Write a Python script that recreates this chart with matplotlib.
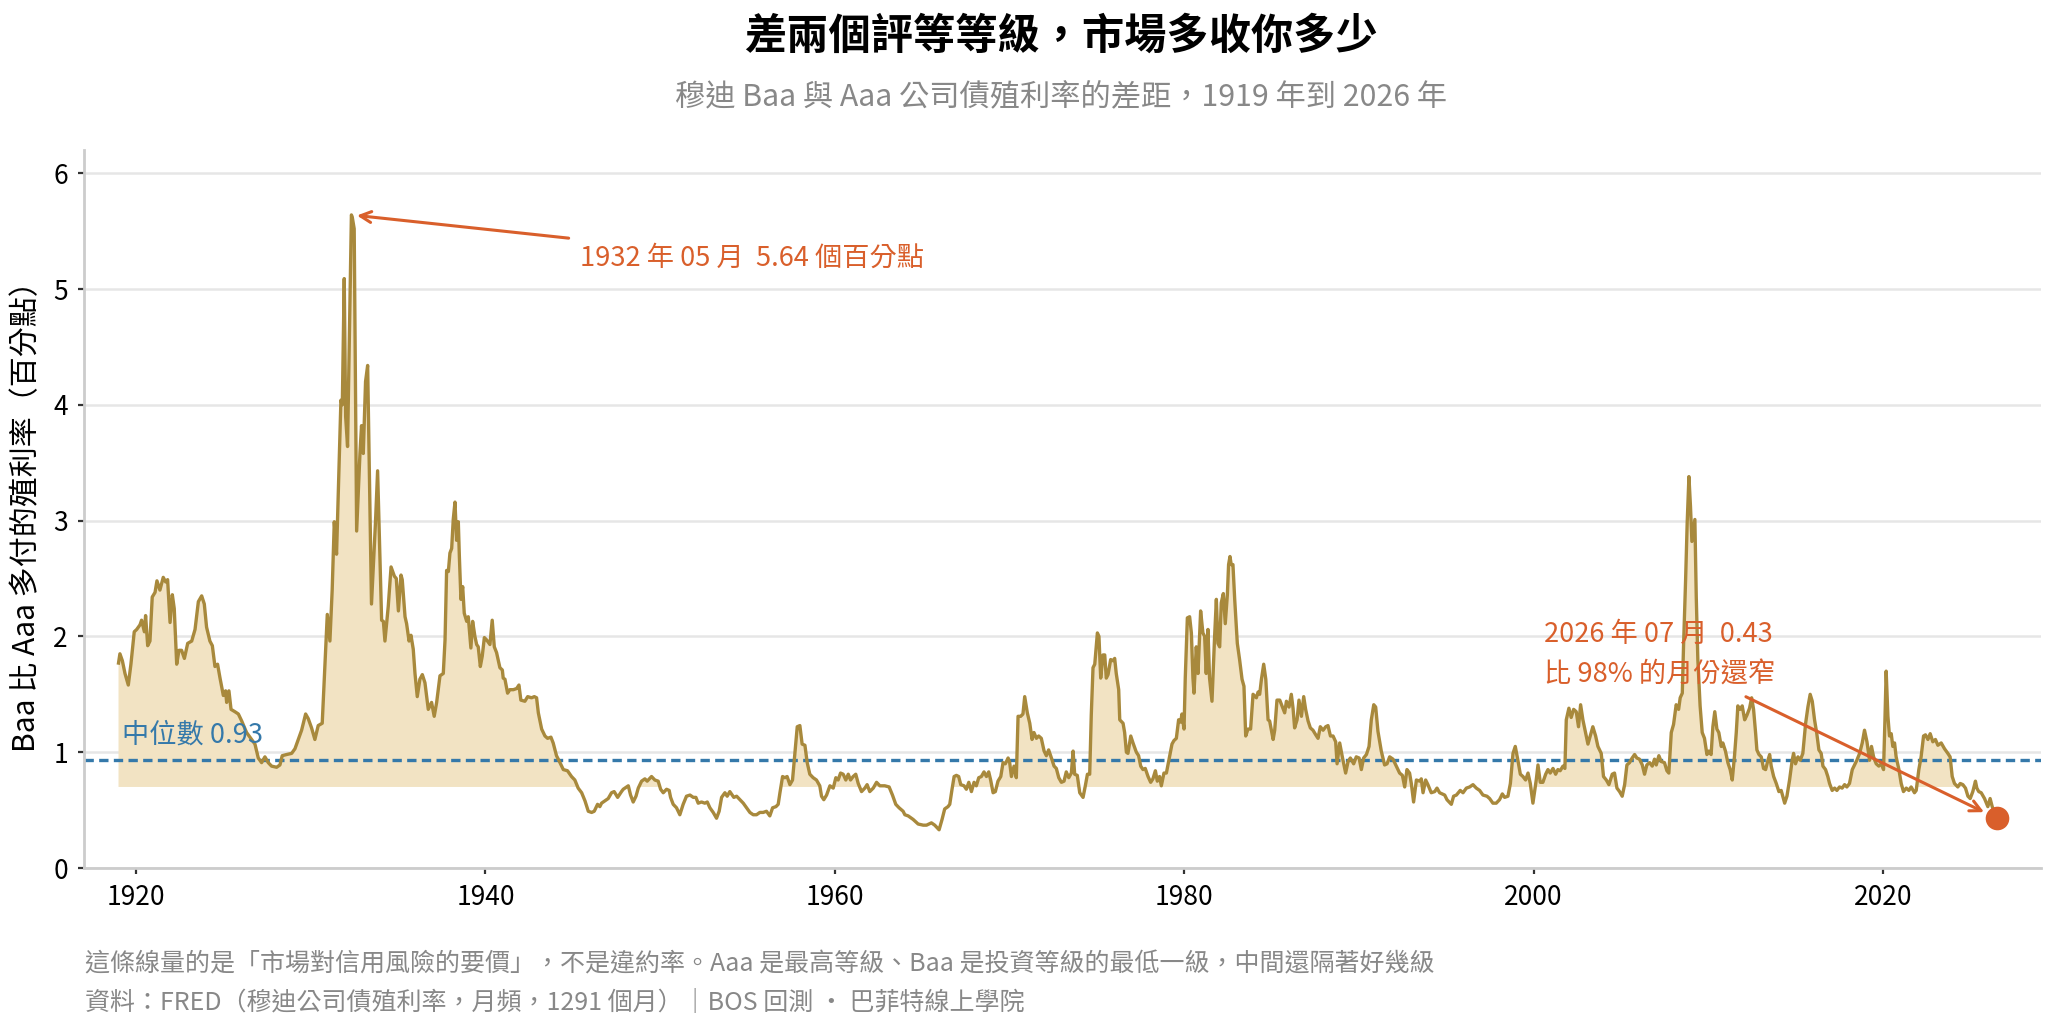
import numpy as np
import matplotlib
matplotlib.use("Agg")
import matplotlib.pyplot as plt

plt.rcParams['font.family'] = ['Noto Sans CJK TC', 'DejaVu Sans']

# Moody's Baa - Aaa spread (percentage points)
# (decimal year, spread)
spread_1919_1933 = [
    (1919.00, 1.77), (1919.08, 1.85), (1919.22, 1.79), (1919.37, 1.68), (1919.56, 1.58),
    (1919.71, 1.76), (1919.90, 2.04), (1920.04, 2.06), (1920.23, 2.10), (1920.32, 2.14),
    (1920.48, 2.04), (1920.55, 2.18), (1920.67, 1.92), (1920.80, 1.96), (1920.93, 2.34),
    (1921.09, 2.38), (1921.20, 2.48), (1921.37, 2.40), (1921.56, 2.51), (1921.70, 2.47),
    (1921.81, 2.49), (1921.95, 2.12), (1922.08, 2.36), (1922.19, 2.24), (1922.33, 1.76),
    (1922.46, 1.88), (1922.61, 1.88), (1922.77, 1.81), (1922.96, 1.94), (1923.19, 1.96),
    (1923.38, 2.06), (1923.57, 2.30), (1923.76, 2.35), (1923.91, 2.28), (1924.04, 2.08),
    (1924.23, 1.96), (1924.37, 1.92), (1924.52, 1.74), (1924.67, 1.76), (1924.81, 1.64),
    (1925.00, 1.49), (1925.13, 1.53), (1925.19, 1.43), (1925.32, 1.53), (1925.44, 1.37),
    (1925.66, 1.35), (1925.86, 1.33), (1926.05, 1.27), (1926.33, 1.17), (1926.62, 1.11),
    (1926.81, 1.07), (1927.00, 0.95), (1927.19, 0.91), (1927.38, 0.96), (1927.57, 0.91),
    (1927.76, 0.88), (1928.05, 0.87), (1928.24, 0.89), (1928.37, 0.97), (1928.62, 0.98),
    (1928.91, 0.99), (1929.10, 1.03), (1929.29, 1.11), (1929.48, 1.19), (1929.71, 1.33),
    (1929.86, 1.29), (1930.05, 1.21), (1930.24, 1.11), (1930.43, 1.23), (1930.66, 1.25),
    (1930.95, 2.19), (1931.10, 1.96), (1931.23, 2.40), (1931.35, 2.99), (1931.48, 2.71),
    (1931.73, 4.04), (1931.81, 4.00), (1931.92, 5.09), (1932.00, 3.90), (1932.11, 3.64),
    (1932.33, 5.64), (1932.38, 5.62), (1932.49, 5.52), (1932.63, 2.91), (1932.82, 3.58),
    (1932.91, 3.82), (1933.01, 3.58), (1933.14, 4.20), (1933.26, 4.34), (1933.48, 2.28),
    (1933.71, 2.99), (1933.83, 3.43),
]

spread_1934_1947 = [
    (1934.06, 2.14), (1934.16, 2.13), (1934.25, 1.96), (1934.44, 2.26), (1934.60, 2.60),
    (1934.79, 2.52), (1934.90, 2.50), (1935.02, 2.22), (1935.17, 2.53), (1935.24, 2.49),
    (1935.40, 2.17), (1935.49, 2.11), (1935.63, 1.96), (1935.74, 2.01), (1935.87, 1.89),
    (1935.97, 1.68), (1936.10, 1.48), (1936.25, 1.63), (1936.39, 1.67), (1936.54, 1.60),
    (1936.73, 1.37), (1936.92, 1.43), (1937.07, 1.31), (1937.21, 1.43), (1937.40, 1.66),
    (1937.59, 1.68), (1937.69, 1.97), (1937.78, 2.57), (1937.88, 2.56), (1937.97, 2.72),
    (1938.07, 2.76), (1938.16, 3.01), (1938.26, 3.16), (1938.35, 2.83), (1938.45, 2.99),
    (1938.51, 2.69), (1938.60, 2.32), (1938.70, 2.43), (1938.79, 2.20), (1938.93, 2.13),
    (1939.02, 2.17), (1939.17, 1.90), (1939.27, 2.13), (1939.40, 2.00), (1939.50, 1.93),
    (1939.59, 1.91), (1939.71, 1.74), (1939.82, 1.83), (1939.94, 1.99), (1940.07, 1.97),
    (1940.26, 1.93), (1940.39, 2.14), (1940.51, 1.91), (1940.64, 1.86), (1940.83, 1.73),
    (1940.97, 1.71), (1941.02, 1.64), (1941.12, 1.63), (1941.27, 1.51), (1941.40, 1.54),
    (1941.60, 1.54), (1941.79, 1.55), (1941.92, 1.58), (1942.03, 1.45), (1942.26, 1.44),
    (1942.42, 1.48), (1942.64, 1.47), (1942.80, 1.48), (1942.93, 1.47), (1943.03, 1.34),
    (1943.22, 1.20), (1943.41, 1.14), (1943.56, 1.12), (1943.75, 1.13), (1943.88, 1.08),
    (1944.07, 0.97), (1944.27, 0.91), (1944.46, 0.85), (1944.70, 0.84), (1944.93, 0.79),
    (1945.12, 0.76), (1945.31, 0.69), (1945.51, 0.65), (1945.70, 0.58), (1945.89, 0.49),
    (1946.08, 0.48), (1946.23, 0.49), (1946.42, 0.55), (1946.55, 0.53), (1946.65, 0.56),
    (1946.84, 0.58), (1947.03, 0.60), (1947.22, 0.65), (1947.37, 0.66), (1947.57, 0.61),
    (1947.79, 0.66),
]

spread_1948_1966 = [
    (1947.89, 0.68), (1948.18, 0.71), (1948.31, 0.63), (1948.46, 0.57), (1948.62, 0.62),
    (1948.75, 0.69), (1948.94, 0.75), (1949.13, 0.77), (1949.26, 0.75), (1949.51, 0.79),
    (1949.70, 0.76), (1949.89, 0.75), (1950.03, 0.68), (1950.18, 0.65), (1950.37, 0.68),
    (1950.52, 0.67), (1950.60, 0.61), (1950.75, 0.55), (1950.94, 0.52), (1951.13, 0.46),
    (1951.32, 0.55), (1951.51, 0.62), (1951.71, 0.63), (1951.90, 0.61), (1952.05, 0.61),
    (1952.18, 0.56), (1952.37, 0.57), (1952.56, 0.56), (1952.70, 0.57), (1952.85, 0.52),
    (1953.04, 0.48), (1953.23, 0.43), (1953.38, 0.49), (1953.52, 0.61), (1953.71, 0.65),
    (1953.84, 0.62), (1953.99, 0.66), (1954.22, 0.61), (1954.38, 0.62), (1954.57, 0.59),
    (1954.76, 0.56), (1954.95, 0.52), (1955.14, 0.48), (1955.33, 0.46), (1955.52, 0.46),
    (1955.71, 0.48), (1955.90, 0.48), (1956.09, 0.49), (1956.28, 0.45), (1956.44, 0.52),
    (1956.63, 0.53), (1956.76, 0.55), (1956.86, 0.65), (1957.01, 0.79), (1957.14, 0.78),
    (1957.27, 0.79), (1957.43, 0.72), (1957.58, 0.76), (1957.71, 0.98), (1957.85, 1.22),
    (1958.00, 1.23), (1958.13, 1.07), (1958.29, 1.06), (1958.42, 0.91), (1958.57, 0.81),
    (1958.76, 0.78), (1958.95, 0.76), (1959.14, 0.71), (1959.24, 0.62), (1959.37, 0.59),
    (1959.53, 0.63), (1959.72, 0.71), (1959.91, 0.69), (1960.06, 0.78), (1960.19, 0.76),
    (1960.33, 0.82), (1960.48, 0.81), (1960.63, 0.76), (1960.77, 0.81), (1960.90, 0.76),
    (1961.05, 0.79), (1961.20, 0.81), (1961.34, 0.73), (1961.53, 0.66), (1961.72, 0.69),
    (1961.85, 0.72), (1962.00, 0.66), (1962.20, 0.69), (1962.39, 0.74), (1962.58, 0.71),
    (1962.86, 0.71), (1963.11, 0.70), (1963.30, 0.63), (1963.49, 0.55), (1963.68, 0.52),
    (1963.91, 0.49), (1964.01, 0.46), (1964.20, 0.45), (1964.48, 0.42), (1964.77, 0.38),
    (1965.06, 0.37), (1965.25, 0.37), (1965.53, 0.39), (1965.72, 0.37), (1965.97, 0.33),
]

spread_1966_1983 = [
    (1966.14, 0.42), (1966.29, 0.51), (1966.48, 0.53), (1966.58, 0.55), (1966.71, 0.68),
    (1966.83, 0.79), (1966.96, 0.80), (1967.09, 0.79), (1967.21, 0.72), (1967.40, 0.71),
    (1967.53, 0.68), (1967.67, 0.74), (1967.82, 0.66), (1967.97, 0.74), (1968.10, 0.71),
    (1968.24, 0.78), (1968.39, 0.79), (1968.54, 0.83), (1968.68, 0.79), (1968.81, 0.83),
    (1968.92, 0.76), (1969.06, 0.65), (1969.19, 0.66), (1969.34, 0.75), (1969.50, 0.79),
    (1969.63, 0.91), (1969.76, 0.90), (1969.92, 0.95), (1970.01, 0.91), (1970.11, 0.79),
    (1970.26, 0.88), (1970.39, 0.78), (1970.49, 1.31), (1970.64, 1.31), (1970.77, 1.33),
    (1970.87, 1.48), (1971.02, 1.34), (1971.16, 1.25), (1971.29, 1.11), (1971.40, 1.17),
    (1971.54, 1.12), (1971.67, 1.14), (1971.82, 1.12), (1971.98, 1.01), (1972.11, 0.97),
    (1972.24, 1.02), (1972.40, 0.95), (1972.55, 0.88), (1972.68, 0.86), (1972.82, 0.78),
    (1972.97, 0.74), (1973.12, 0.75), (1973.25, 0.83), (1973.39, 0.78), (1973.54, 0.82),
    (1973.64, 1.01), (1973.73, 0.81), (1973.88, 0.80), (1974.02, 0.65), (1974.21, 0.61),
    (1974.34, 0.71), (1974.46, 0.81), (1974.59, 0.81), (1974.68, 1.32), (1974.78, 1.73),
    (1974.88, 1.76), (1975.03, 2.03), (1975.12, 2.00), (1975.22, 1.64), (1975.35, 1.84),
    (1975.45, 1.84), (1975.54, 1.64), (1975.64, 1.67), (1975.79, 1.80), (1975.92, 1.79),
    (1976.02, 1.81), (1976.11, 1.68), (1976.25, 1.54), (1976.31, 1.28), (1976.50, 1.25),
    (1976.59, 1.17), (1976.69, 1.00), (1976.78, 0.99), (1976.94, 1.14), (1977.07, 1.08),
    (1977.26, 1.00), (1977.39, 0.97), (1977.51, 0.88), (1977.64, 0.85), (1977.77, 0.86),
    (1977.93, 0.79), (1978.08, 0.74), (1978.21, 0.77), (1978.35, 0.84), (1978.46, 0.75),
    (1978.59, 0.79), (1978.69, 0.71), (1978.84, 0.82), (1978.98, 0.82), (1979.17, 0.97),
    (1979.30, 1.07), (1979.41, 1.10), (1979.55, 1.12), (1979.68, 1.28), (1979.80, 1.26),
    (1979.87, 1.33), (1979.99, 1.20), (1980.06, 1.64), (1980.18, 2.16), (1980.31, 2.17),
    (1980.41, 2.03), (1980.50, 1.64), (1980.56, 1.51), (1980.69, 1.91), (1980.79, 1.68),
    (1980.94, 2.22), (1981.07, 2.03), (1981.17, 2.00), (1981.26, 1.68), (1981.36, 2.06),
    (1981.45, 1.64), (1981.59, 1.44), (1981.74, 2.00), (1981.84, 2.32), (1981.93, 1.94),
    (1982.03, 1.91), (1982.12, 2.29), (1982.24, 2.37), (1982.35, 2.11), (1982.47, 2.36),
    (1982.54, 2.62), (1982.62, 2.69), (1982.69, 2.62), (1982.79, 2.62), (1982.89, 2.32),
    (1983.04, 1.94), (1983.17, 1.80), (1983.31, 1.63), (1983.42, 1.57), (1983.52, 1.14),
    (1983.65, 1.20), (1983.80, 1.20), (1983.94, 1.50),
]

spread_1984_1999 = [
    (1984.13, 1.47), (1984.23, 1.52), (1984.32, 1.50), (1984.42, 1.63), (1984.55, 1.76),
    (1984.67, 1.63), (1984.80, 1.28), (1984.89, 1.27), (1984.99, 1.19), (1985.09, 1.11),
    (1985.18, 1.19), (1985.31, 1.45), (1985.47, 1.45), (1985.62, 1.39), (1985.75, 1.34),
    (1985.85, 1.44), (1986.00, 1.39), (1986.13, 1.50), (1986.23, 1.38), (1986.32, 1.21),
    (1986.46, 1.28), (1986.57, 1.45), (1986.71, 1.31), (1986.84, 1.48), (1986.95, 1.37),
    (1987.09, 1.27), (1987.22, 1.21), (1987.37, 1.19), (1987.53, 1.15), (1987.66, 1.12),
    (1987.79, 1.22), (1987.95, 1.19), (1988.10, 1.22), (1988.23, 1.23), (1988.37, 1.14),
    (1988.52, 1.14), (1988.67, 1.09), (1988.75, 0.90), (1988.90, 1.08), (1989.05, 0.96),
    (1989.24, 0.82), (1989.38, 0.92), (1989.51, 0.95), (1989.70, 0.90), (1989.85, 0.96),
    (1990.01, 0.95), (1990.14, 0.85), (1990.27, 0.95), (1990.43, 0.98), (1990.58, 1.05),
    (1990.71, 1.28), (1990.85, 1.41), (1990.96, 1.39), (1991.09, 1.18), (1991.28, 1.01),
    (1991.47, 0.89), (1991.61, 0.90), (1991.76, 0.96), (1991.95, 0.94), (1992.14, 0.88),
    (1992.33, 0.82), (1992.49, 0.80), (1992.62, 0.70), (1992.75, 0.85), (1992.90, 0.82),
    (1993.00, 0.73), (1993.13, 0.57), (1993.29, 0.76), (1993.48, 0.75), (1993.57, 0.77),
    (1993.67, 0.65), (1993.82, 0.76), (1993.95, 0.72), (1994.14, 0.65), (1994.34, 0.66),
    (1994.47, 0.69), (1994.62, 0.65), (1994.77, 0.64), (1994.91, 0.63), (1995.04, 0.59),
    (1995.29, 0.55), (1995.42, 0.62), (1995.58, 0.63), (1995.80, 0.67), (1995.96, 0.65),
    (1996.15, 0.69), (1996.34, 0.70), (1996.53, 0.72), (1996.72, 0.69), (1996.91, 0.67),
    (1997.10, 0.63), (1997.33, 0.62), (1997.48, 0.60), (1997.67, 0.56), (1997.86, 0.56),
    (1998.05, 0.59), (1998.21, 0.64), (1998.34, 0.61), (1998.53, 0.62), (1998.67, 0.73),
    (1998.82, 0.99), (1998.95, 1.05), (1999.10, 0.93), (1999.24, 0.81), (1999.39, 0.79),
    (1999.54, 0.76), (1999.68, 0.82), (1999.81, 0.73), (1999.96, 0.56), (2000.15, 0.76),
]

spread_2000_2011 = [
    (2000.25, 0.89), (2000.38, 0.74), (2000.53, 0.74), (2000.69, 0.81), (2000.82, 0.85),
    (2000.95, 0.82), (2001.11, 0.86), (2001.26, 0.81), (2001.39, 0.85), (2001.52, 0.84),
    (2001.68, 0.88), (2001.79, 0.86), (2001.87, 1.28), (2002.02, 1.38), (2002.15, 1.30),
    (2002.29, 1.37), (2002.44, 1.35), (2002.57, 1.22), (2002.69, 1.41), (2002.82, 1.28),
    (2002.97, 1.17), (2003.11, 1.07), (2003.24, 1.14), (2003.39, 1.22), (2003.55, 1.14),
    (2003.68, 1.05), (2003.87, 0.99), (2004.00, 0.79), (2004.16, 0.76), (2004.31, 0.72),
    (2004.50, 0.81), (2004.63, 0.82), (2004.77, 0.69), (2004.92, 0.66), (2005.07, 0.62),
    (2005.21, 0.72), (2005.34, 0.89), (2005.49, 0.91), (2005.64, 0.95), (2005.78, 0.98),
    (2005.91, 0.95), (2006.06, 0.94), (2006.22, 0.89), (2006.35, 0.81), (2006.48, 0.89),
    (2006.64, 0.91), (2006.79, 0.88), (2006.92, 0.94), (2007.02, 0.89), (2007.17, 0.97),
    (2007.30, 0.92), (2007.49, 0.91), (2007.63, 0.84), (2007.74, 0.82), (2007.88, 1.17),
    (2008.01, 1.24), (2008.16, 1.41), (2008.30, 1.37), (2008.39, 1.47), (2008.51, 1.51),
    (2008.58, 1.91), (2008.70, 2.49), (2008.79, 2.98), (2008.89, 3.38), (2008.98, 3.12),
    (2009.06, 2.82), (2009.15, 2.92), (2009.23, 3.01), (2009.31, 2.34), (2009.40, 1.80),
    (2009.53, 1.40), (2009.65, 1.17), (2009.78, 1.12), (2009.92, 0.98), (2010.03, 1.01),
    (2010.16, 0.98), (2010.26, 1.22), (2010.37, 1.35), (2010.49, 1.20), (2010.60, 1.17),
    (2010.74, 1.05), (2010.83, 1.08), (2010.98, 1.01), (2011.12, 0.91), (2011.25, 0.85),
    (2011.37, 0.76), (2011.50, 0.97), (2011.60, 1.17), (2011.69, 1.40), (2011.82, 1.37),
    (2011.94, 1.40),
]

spread_2012_2026 = [
    (2012.08, 1.28), (2012.21, 1.32), (2012.36, 1.38), (2012.48, 1.47), (2012.59, 1.37),
    (2012.71, 1.16), (2012.78, 1.02), (2012.90, 0.98), (2013.03, 0.96), (2013.16, 0.86),
    (2013.28, 0.85), (2013.41, 0.93), (2013.51, 0.98), (2013.60, 0.88), (2013.74, 0.79),
    (2013.89, 0.73), (2014.04, 0.66), (2014.17, 0.67), (2014.37, 0.56), (2014.50, 0.62),
    (2014.65, 0.76), (2014.80, 0.93), (2014.88, 0.99), (2014.99, 0.90), (2015.13, 0.96),
    (2015.26, 0.93), (2015.41, 0.99), (2015.57, 1.25), (2015.70, 1.39), (2015.83, 1.50),
    (2015.95, 1.44), (2016.08, 1.28), (2016.21, 1.16), (2016.33, 1.02), (2016.46, 0.99),
    (2016.56, 0.88), (2016.71, 0.85), (2016.84, 0.79), (2016.94, 0.73), (2017.09, 0.67),
    (2017.23, 0.69), (2017.36, 0.67), (2017.51, 0.70), (2017.66, 0.69), (2017.80, 0.72),
    (2017.93, 0.70), (2018.08, 0.73), (2018.24, 0.85), (2018.37, 0.89), (2018.50, 0.93),
    (2018.66, 0.99), (2018.81, 1.08), (2018.94, 1.19), (2019.08, 1.09), (2019.23, 0.93),
    (2019.34, 1.05), (2019.46, 0.96), (2019.61, 0.90), (2019.76, 0.88), (2019.90, 0.90),
    (2020.03, 0.85), (2020.11, 1.28), (2020.18, 1.70), (2020.28, 1.31), (2020.37, 1.14),
    (2020.47, 1.16), (2020.56, 1.05), (2020.66, 1.08), (2020.75, 0.96), (2020.91, 0.85),
    (2021.04, 0.73), (2021.17, 0.66), (2021.33, 0.69), (2021.48, 0.67), (2021.61, 0.70),
    (2021.80, 0.65), (2021.90, 0.67), (2022.05, 0.85), (2022.18, 0.96), (2022.32, 1.14),
    (2022.43, 1.15), (2022.57, 1.11), (2022.70, 1.16), (2022.85, 1.09), (2023.00, 1.11),
    (2023.14, 1.06), (2023.33, 1.08), (2023.52, 1.03), (2023.71, 0.99), (2023.84, 0.96),
    (2023.96, 0.79), (2024.09, 0.73), (2024.28, 0.70), (2024.42, 0.73), (2024.57, 0.72),
    (2024.72, 0.69), (2024.86, 0.62), (2024.99, 0.60), (2025.14, 0.66), (2025.29, 0.75),
    (2025.37, 0.69), (2025.48, 0.66), (2025.62, 0.65), (2025.81, 0.60), (2026.00, 0.53),
    (2026.13, 0.60), (2026.25, 0.53), (2026.50, 0.43),
]

median_spread = 0.93
fill_floor = 0.70
peak = (1932.33, 5.64)
latest = (2026.50, 0.43)
x_ticks = [1920, 1940, 1960, 1980, 2000, 2020]
y_ticks = [0, 1, 2, 3, 4, 5, 6]

title = '差兩個評等等級，市場多收你多少'
subtitle = '穆迪 Baa 與 Aaa 公司債殖利率的差距，1919 年到 2026 年'
ylabel = 'Baa 比 Aaa 多付的殖利率（百分點）'
peak_label = '1932 年 05 月  5.64 個百分點'
latest_label = '2026 年 07 月  0.43\n比 98% 的月份還窄'
median_label = '中位數 0.93'
note_1 = '這條線量的是「市場對信用風險的要價」，不是違約率。Aaa 是最高等級、Baa 是投資等級的最低一級，中間還隔著好幾級'
note_2 = '資料：FRED（穆迪公司債殖利率，月頻，1291 個月）｜BOS 回測 · 巴菲特線上學院'

# colours
LINE = '#a8893c'
FILL = '#f2e3c3'
BLUE = '#3579aa'
ORANGE = '#d95f2b'
GREY = '#888888'

all_pts = (spread_1919_1933 + spread_1934_1947 + spread_1948_1966 + spread_1966_1983
           + spread_1984_1999 + spread_2000_2011 + spread_2012_2026)
years = np.array([p[0] for p in all_pts])
spread = np.array([p[1] for p in all_pts])

fig = plt.figure(figsize=(10.285, 5.16), dpi=200)
ax = fig.add_axes([0.0408, 0.1589, 0.9514, 0.6957])

ax.fill_between(years, spread, fill_floor, where=spread >= fill_floor,
                interpolate=True, color=FILL, lw=0, zorder=1)
ax.plot(years, spread, color=LINE, lw=1.2, zorder=3)
ax.axhline(median_spread, color=BLUE, lw=1.2, dashes=(2.8, 1.6), zorder=2)
ax.text(1919.2, median_spread + 0.1, median_label, color=BLUE, fontsize=9.8,
        ha='left', va='bottom', zorder=4)

ax.plot([latest[0]], [latest[1]], 'o', color=ORANGE, markersize=7.5, zorder=5)

ax.annotate(peak_label, xy=peak, xytext=(1945.4, 5.27), color=ORANGE, fontsize=9.8,
            ha='left', va='center',
            arrowprops=dict(arrowstyle='->', color=ORANGE, lw=1.1))
ax.annotate(latest_label, xy=latest, xytext=(2000.6, 1.84), color=ORANGE, fontsize=9.8,
            ha='left', va='center', linespacing=1.65,
            arrowprops=dict(arrowstyle='->', color=ORANGE, lw=1.1, shrinkB=5))

ax.set_xlim(1917.02, 2029.04)
ax.set_ylim(0, 6.2)
ax.set_xticks(x_ticks)
ax.set_yticks(y_ticks)
ax.tick_params(axis='both', labelsize=9.5, length=2.2, width=0.8, color='#333333', pad=3.5)
ax.grid(axis='y', color='#e6e6e6', lw=0.9, zorder=0)
ax.set_axisbelow(True)
for s in ['top', 'right']:
    ax.spines[s].set_visible(False)
for s in ['left', 'bottom']:
    ax.spines[s].set_color('#cccccc')
    ax.spines[s].set_linewidth(1.0)
ax.set_ylabel(ylabel, fontsize=10.8, labelpad=4)

fig.text(0.516, 0.964, title, fontsize=15.2, fontweight='bold', ha='center', va='center')
fig.text(0.516, 0.905, subtitle, fontsize=10.9, color=GREY, ha='center', va='center')
fig.text(0.0413, 0.065, note_1, fontsize=9.0, color=GREY, ha='left', va='center')
fig.text(0.0413, 0.028, note_2, fontsize=9.0, color=GREY, ha='left', va='center')

fig.savefig('out.png', dpi=200)
